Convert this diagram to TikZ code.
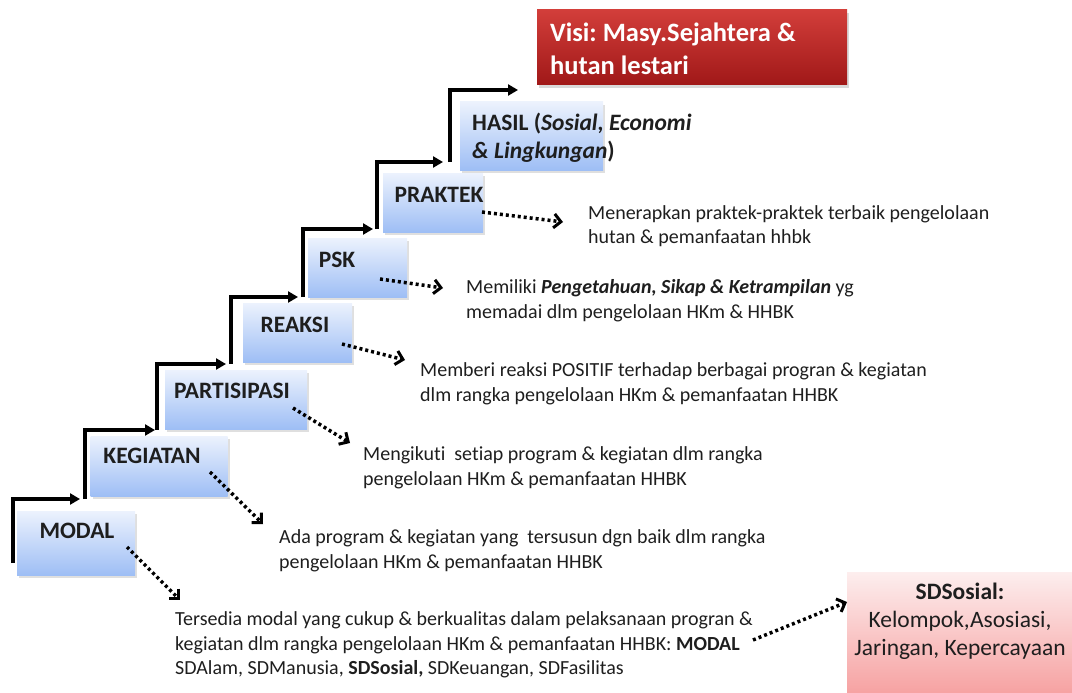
\documentclass[tikz,border=0pt]{standalone}
\usepackage{fontspec}
\setmainfont{Carlito}[Ligatures=NoCommon]
\usetikzlibrary{arrows.meta,shadows}
\frenchspacing

\definecolor{boxtop}{RGB}{236,242,253}
\definecolor{boxbot}{RGB}{158,190,245}
\definecolor{visitop}{RGB}{210,62,58}
\definecolor{visibot}{RGB}{160,24,24}
\definecolor{sdtop}{RGB}{253,238,238}
\definecolor{sdbot}{RGB}{246,160,160}
\definecolor{inkgray}{RGB}{30,30,30}

\tikzset{
  stepbox/.style={rectangle, inner sep=0, top color=boxtop, bottom color=boxbot,
    drop shadow={shadow xshift=2pt, shadow yshift=-3pt, opacity=0.25}},
  visibox/.style={rectangle, inner sep=0, top color=visitop, bottom color=visibot,
    drop shadow={shadow xshift=2pt, shadow yshift=-3pt, opacity=0.3}},
  sdbox/.style={rectangle, inner sep=0, top color=sdtop, bottom color=sdbot},
  steplabel/.style={inner sep=0, text=inkgray, font=\fontsize{23.5}{28}\selectfont\bfseries},
  desctext/.style={inner sep=0, anchor=west, align=left, text=inkgray,
    font=\fontsize{20}{24.5}\selectfont},
  stairline/.style={line width=3.5pt, -{Triangle[length=10pt,width=11pt]}},
  dotarrow/.style={line width=3.5pt, dash pattern=on 3pt off 3pt,
    -{Straight Barb[length=7pt,width=14pt,line width=3pt]}}
}

\begin{document}
\begin{tikzpicture}[x=1pt,y=-1pt]
\useasboundingbox (0,0) rectangle (1072,693);

% step boxes
\node[stepbox, minimum width=118, minimum height=64] (bmodal) at (76,543) {};
\node[stepbox, minimum width=137, minimum height=60] (bkeg)   at (159,466) {};
\node[stepbox, minimum width=142, minimum height=59] (bpart)  at (236,399.5) {};
\node[stepbox, minimum width=109, minimum height=59] (break)  at (297.5,332.5) {};
\node[stepbox, minimum width=99,  minimum height=59] (bpsk)   at (357.5,267.5) {};
\node[stepbox, minimum width=100, minimum height=59] (bprak)  at (433,202.5) {};
\node[stepbox, minimum width=143, minimum height=68] (bhasil) at (531.5,136) {};
\node[visibox, minimum width=310, minimum height=75] (bvisi)  at (692,47.5) {};
\node[sdbox,   minimum width=228, minimum height=124] (bsd)   at (961,634) {};

% step labels
\node[steplabel] (lmodal) at (77,531)  {MODAL};
\node[steplabel] (lkeg)   at (152,456) {KEGIATAN};
\node[steplabel] (lpart)  at (232,391) {PARTISIPASI};
\node[steplabel] (lreak)  at (295,325) {REAKSI};
\node[steplabel] (lpsk)   at (337,260) {PSK};
\node[steplabel] (lprak)  at (439,195) {PRAKTEK};
\node[steplabel, anchor=west, align=left] (lhasil) at (472,138)
  {HASIL (\textit{Sosial, Economi}\\\textit{\& Lingkungan})};
\node[inner sep=0, anchor=west, align=left, text=white,
      font=\fontsize{26.5}{33}\selectfont\bfseries] (lvisi) at (550,48.5)
  {Visi: Masy.Sejahtera \&\\hutan lestari};
\node[inner sep=0, align=center, text=inkgray, font=\fontsize{23.5}{28}\selectfont]
  (lsd) at (960,621) {\textbf{SDSosial:}\\Kelompok,Asosiasi,\\Jaringan, Kepercayaan};

% descriptions
\node[desctext] (dprak) at (588,226)
  {Menerapkan praktek-praktek terbaik pengelolaan\\hutan \& pemanfaatan hhbk};
\node[desctext] (dpsk) at (466,300.5)
  {Memiliki \textbf{\textit{Pengetahuan, Sikap \& Ketrampilan}} yg\\memadai dlm pengelolaan HKm \& HHBK};
\node[desctext] (dreak) at (420,384)
  {Memberi reaksi POSITIF terhadap berbagai progran \& kegiatan\\dlm rangka pengelolaan HKm \& pemanfaatan HHBK};
\node[desctext] (dpart) at (363,468)
  {Mengikuti\ \ setiap program \& kegiatan dlm rangka\\pengelolaan HKm \& pemanfaatan HHBK};
\node[desctext] (dkeg) at (279,551)
  {Ada program \& kegiatan yang\ \ tersusun dgn baik dlm rangka\\pengelolaan HKm \& pemanfaatan HHBK};
\node[desctext] (dmodal) at (175,645)
  {Tersedia modal yang cukup \& berkualitas dalam pelaksanaan progran \&\\kegiatan dlm rangka pengelolaan HKm \& pemanfaatan HHBK: \textbf{MODAL}\\SDAlam, SDManusia, \textbf{SDSosial,} SDKeuangan, SDFasilitas};

% staircase corners
\coordinate (s1) at (13,563);  \coordinate (e1) at (80,499);
\coordinate (s2) at (85,499);  \coordinate (e2) at (155,430);
\coordinate (s3) at (157,430); \coordinate (e3) at (226,364);
\coordinate (s4) at (231,364); \coordinate (e4) at (298,297);
\coordinate (s5) at (303,297); \coordinate (e5) at (373,229);
\coordinate (s6) at (377,229); \coordinate (e6) at (443,162);
\coordinate (s7) at (450,162); \coordinate (e7) at (518,90);
\foreach \i in {1,...,7} {\draw[stairline] (s\i) |- (e\i);}

% dotted pointers from steps to their descriptions
\coordinate (am) at (127,547); \coordinate (zm) at (180,600);
\coordinate (ak) at (210,472); \coordinate (zk) at (263,524);
\coordinate (ap) at (293,408); \coordinate (zp) at (350,443);
\coordinate (ar) at (342,344); \coordinate (zr) at (405,360);
\coordinate (as) at (380,279); \coordinate (zs) at (443,288);
\coordinate (ak2) at (482,212); \coordinate (zk2) at (563,222);
\coordinate (ad) at (753,640); \coordinate (zd) at (847,602);
\draw[dotarrow] (am) -- (zm);
\draw[dotarrow] (ak) -- (zk);
\draw[dotarrow] (ap) -- (zp);
\draw[dotarrow] (ar) -- (zr);
\draw[dotarrow] (as) -- (zs);
\draw[dotarrow] (ak2) -- (zk2);
\draw[dotarrow] (ad) -- (zd);
\end{tikzpicture}
\end{document}
